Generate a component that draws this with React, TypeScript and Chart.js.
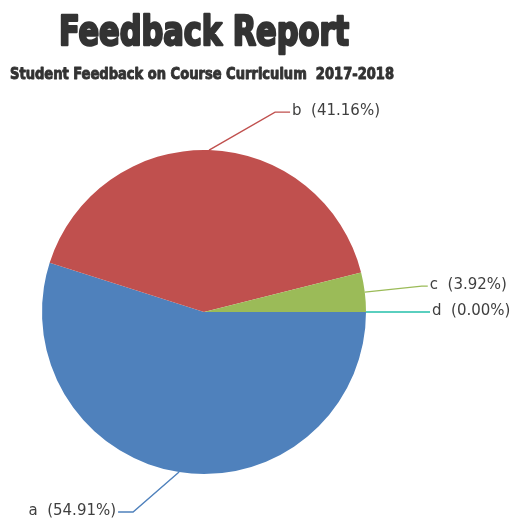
import { useEffect, useRef } from 'react';
import { Chart, registerables } from 'chart.js';

Chart.register(...registerables);

const categories = ['a', 'b', 'c', 'd'];
const values = [54.91, 41.16, 3.92, 0.0];
const colors = ['#4F81BC', '#C0504E', '#9BBB58', '#23BFAA'];
const titleText = 'Feedback Report';
const subtitleText = 'Student Feedback on Course Curriculum  2017-2018';

// leader line style: [elbow dx, elbow dy, horizontal tail] relative to slice edge
const leaderStyle = [
  [-46, 40, -15],
  [66, -38, 15],
  [57, -6, 6],
  [60, 0, 4],
];

const fitText = (
  ctx: CanvasRenderingContext2D,
  text: string,
  font: string,
  left: number,
  width: number,
  baseline: number,
  color: string,
  stroke: number
) => {
  ctx.save();
  ctx.font = font;
  ctx.textBaseline = 'alphabetic';
  ctx.textAlign = 'left';
  const w = ctx.measureText(text).width;
  ctx.translate(left, baseline);
  ctx.scale(width / w, 1);
  ctx.fillStyle = color;
  ctx.fillText(text, 0, 0);
  if (stroke > 0) {
    ctx.strokeStyle = color;
    ctx.lineWidth = stroke;
    ctx.lineJoin = 'round';
    ctx.strokeText(text, 0, 0);
  }
  ctx.restore();
};

const labelPlugin = {
  id: 'labelPlugin',
  afterDraw(chart: any) {
    const ctx: CanvasRenderingContext2D = chart.ctx;
    fitText(ctx, titleText, 'bold 41px "DejaVu Sans Condensed", "Liberation Sans Narrow", "DejaVu Sans", sans-serif', 59, 290, 45, '#333333', 2.4);
    fitText(ctx, subtitleText, 'bold 16px "DejaVu Sans Condensed", "Liberation Sans Narrow", "DejaVu Sans", sans-serif', 10, 384, 79, '#333333', 0.9);

    const meta = chart.getDatasetMeta(0);
    meta.data.forEach((arc: any, i: number) => {
      const p = arc.getProps(['x', 'y', 'startAngle', 'endAngle', 'outerRadius'], true);
      const mid = (p.startAngle + p.endAngle) / 2;
      const ex = p.x + Math.cos(mid) * p.outerRadius;
      const ey = p.y + Math.sin(mid) * p.outerRadius;
      const [dx, dy, tail] = leaderStyle[i];
      const bx = ex + dx;
      const by = ey + dy;
      const tx = bx + tail;
      ctx.save();
      ctx.strokeStyle = colors[i];
      ctx.lineWidth = 1.4;
      ctx.beginPath();
      ctx.moveTo(ex, ey);
      ctx.lineTo(bx, by);
      ctx.lineTo(tx, by);
      ctx.stroke();
      ctx.font = '15px "DejaVu Sans", sans-serif';
      ctx.fillStyle = '#3f3f3f';
      ctx.textBaseline = 'middle';
      const label = categories[i] + '  (' + values[i].toFixed(2) + '%)';
      if (tail < 0) {
        ctx.textAlign = 'right';
        ctx.fillText(label, tx - 2, by - 1);
      } else {
        ctx.textAlign = 'left';
        ctx.fillText(label, tx + 2, by - 1);
      }
      ctx.restore();
    });
  },
};

export default function App() {
  const ref = useRef<HTMLCanvasElement | null>(null);
  useEffect(() => {
    if (!ref.current) return;
    const chart = new Chart(ref.current, {
      type: 'pie',
      data: {
        labels: categories,
        datasets: [
          {
            data: values,
            backgroundColor: colors,
            borderWidth: 0,
            hoverOffset: 0,
            offset: 0,
          },
        ],
      },
      options: {
        responsive: false,
        animation: false,
        events: [],
        rotation: 90,
        layout: { padding: { left: 42, right: 146, top: 150, bottom: 46 } },
        plugins: {
          legend: { display: false },
          title: { display: false },
          tooltip: { enabled: false },
        },
      },
      plugins: [labelPlugin],
    });
    return () => chart.destroy();
  }, []);
  return (
    <div style={{ position: 'fixed', left: 0, top: 0, width: 512, height: 520, background: '#fff' }}>
      <canvas ref={ref} width={512} height={520} style={{ width: 512, height: 520 }} />
    </div>
  );
}
